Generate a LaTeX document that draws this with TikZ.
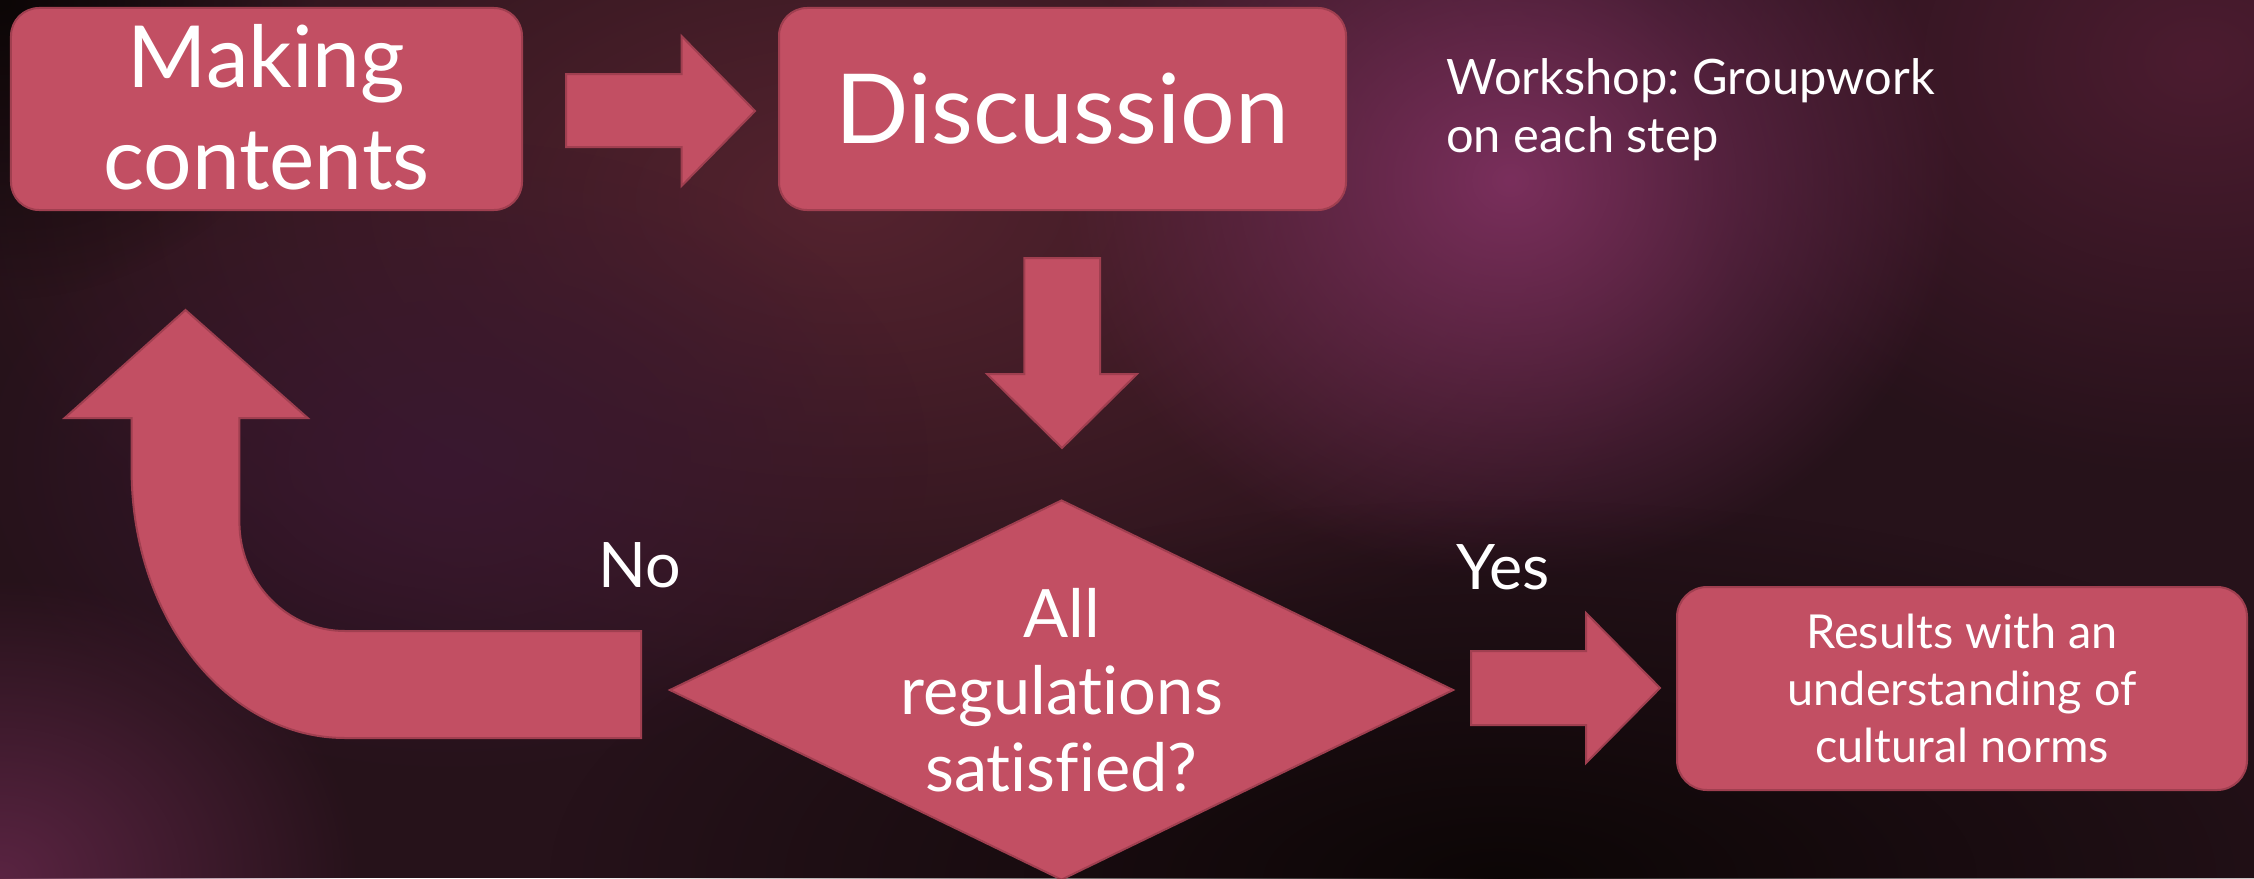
\documentclass[tikz,border=0pt]{standalone}
\usepackage{fontspec}
\setmainfont{Lato}[Ligatures={NoCommon}]
\frenchspacing
\usetikzlibrary{shapes.geometric,fadings}
\definecolor{boxfill}{HTML}{C24F63}
\definecolor{boxline}{HTML}{A03F50}
\definecolor{bgbase}{HTML}{26121A}
\definecolor{bgmaroon}{HTML}{55232F}
\definecolor{bgpurple}{HTML}{7A2F5C}
\definecolor{bgright}{HTML}{4C1C30}
\definecolor{bgdark}{HTML}{0C0606}
\definecolor{bgleft}{HTML}{5A2442}
\definecolor{bgmid}{HTML}{3A1830}
\tikzfading[name=glowfade, inner color=transparent!0, outer color=transparent!100]
\tikzset{
  box/.style={draw=boxline, line width=2bp, fill=boxfill, rounded corners=28bp,
    text=white, align=center, inner sep=0pt},
  blockarrow/.style={draw=boxline, line width=2bp, fill=boxfill, line join=miter},
  lbl/.style={text=white, inner sep=0pt},
  glow/.style={path fading=glowfade},
}
\begin{document}
\begin{tikzpicture}[x=1bp,y=-1bp]
\useasboundingbox (0,0) rectangle (2254,878);
% background
\fill[bgbase] (0,0) rectangle (2254,878);
\begin{scope}
\clip (0,0) rectangle (2254,878);
\fill[bgmaroon, glow] (850,200) ellipse [x radius=900, y radius=520];
\fill[bgmid, glow] (450,460) ellipse [x radius=480, y radius=320];
\fill[bgright, glow] (2200,60) ellipse [x radius=550, y radius=420];
\fill[bgpurple, glow] (1510,180) ellipse [x radius=450, y radius=400];
\fill[bgdark, glow] (1500,880) ellipse [x radius=950, y radius=380];
\fill[bgdark, glow] (0,0) ellipse [x radius=320, y radius=300];
\fill[bgleft, glow] (0,878) ellipse [x radius=360, y radius=300];
\end{scope}

% boxes
\node[box, minimum width=511bp, minimum height=202bp] (mc) at (266.5,109) {};
\node[lbl, align=center, font=\fontsize{86}{102}\selectfont] (mctext) at (266.5,107)
  {Making\\contents};
\node[box, minimum width=567bp, minimum height=202bp,
  font=\fontsize{97}{112}\selectfont] (disc) at (1062.5,109) {Discussion};
\node[box, minimum width=570bp, minimum height=203bp, rounded corners=30bp,
  font=\fontsize{47}{57}\selectfont] (res) at (1962,688.5)
  {Results with an\\understanding of\\cultural norms};
\node[diamond, draw=boxline, line width=2bp, fill=boxfill, minimum width=784bp,
  minimum height=380bp, inner sep=0pt] (dec) at (1061.5,690) {};
\node[lbl, align=center, font=\fontsize{67}{77}\selectfont] (dectext) at (dec.center)
  {All\\regulations\\satisfied?};

% labels
\node[lbl, anchor=base, font=\fontsize{63}{75}\selectfont] (no) at (640,587) {No};
\node[lbl, anchor=base, font=\fontsize{63}{75}\selectfont] (yes) at (1503,589) {Yes};
\node[lbl, anchor=base west, align=left, font=\fontsize{49}{58}\selectfont] (ws) at (1446,152)
  {Workshop: Groupwork\\on each step};

% block arrows
\draw[blockarrow] (566,74) -- (681.5,74) -- (681.5,36) -- (755,111) -- (681.5,186)
  -- (681.5,147) -- (566,147) -- cycle;
\draw[blockarrow] (1024.4,258) -- (1100,258) -- (1100,374) -- (1137,374) -- (1062,448)
  -- (987,374) -- (1024.4,374) -- cycle;
\draw[blockarrow] (1471,651) -- (1586,651) -- (1586,613) -- (1660,688) -- (1586,763)
  -- (1586,725) -- (1471,725) -- cycle;
\draw[blockarrow] (185.5,310) -- (307.7,418) -- (239.4,418) -- (239.4,522)
  .. controls (239.4,582) and (286.7,631) .. (345,631) -- (641,631) -- (641,738)
  -- (345,738) .. controls (227.2,738) and (131.6,618) .. (131.6,470)
  -- (131.6,418) -- (64.7,418) -- cycle;
\end{tikzpicture}
\end{document}
